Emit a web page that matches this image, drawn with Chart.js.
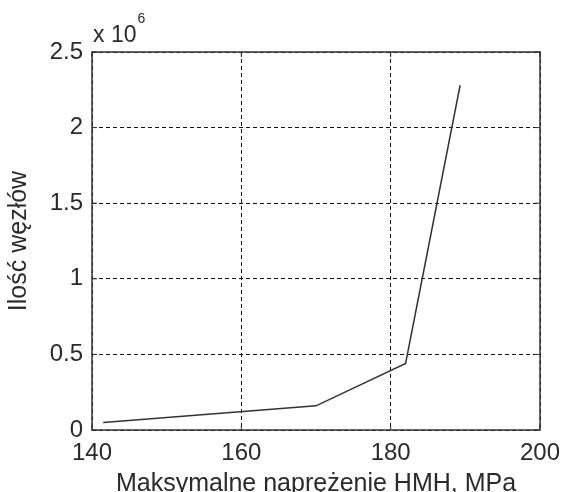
<!DOCTYPE html>
<html>
<head>
<meta charset="utf-8">
<script src="https://cdn.jsdelivr.net/npm/chart.js@4"></script>
<style>
    html, body { margin: 0; padding: 0; background: #fff; }
    #wrap { width: 562px; height: 492px; }
</style>
</head>
<body>
<div id="wrap"><canvas id="chart" width="562" height="492"></canvas></div>
<script>
// stress (MPa) vs node count (x 10^6)
const stressValues = [141.5, 170, 182, 189.3];
const nodeCounts = [0.05, 0.16, 0.44, 2.28];
const xTicks = [140, 160, 180, 200];
const yTicks = [0, 0.5, 1, 1.5, 2, 2.5];

const xTitle = 'Maksymalne naprężenie HMH, MPa';
const yTitle = 'Ilość węzłów';

const fontFamily = '"Liberation Sans", Arial, sans-serif';
const textColor = '#2a2a2a';

// frame, inward ticks and the exponent label, MATLAB style
const framePlugin = {
    id: 'frame',
    afterDraw(chart) {
        const { ctx, chartArea: a, scales } = chart;
        ctx.save();
        ctx.strokeStyle = '#333';
        ctx.lineWidth = 1.5;
        ctx.strokeRect(a.left, a.top, a.right - a.left, a.bottom - a.top);

        ctx.lineWidth = 1;
        xTicks.forEach(v => {
            const px = scales.x.getPixelForValue(v);
            ctx.beginPath();
            ctx.moveTo(px, a.bottom); ctx.lineTo(px, a.bottom - 5);
            ctx.moveTo(px, a.top); ctx.lineTo(px, a.top + 5);
            ctx.stroke();
        });
        yTicks.forEach(v => {
            const py = scales.y.getPixelForValue(v);
            ctx.beginPath();
            ctx.moveTo(a.left, py); ctx.lineTo(a.left + 5, py);
            ctx.moveTo(a.right, py); ctx.lineTo(a.right - 5, py);
            ctx.stroke();
        });

        ctx.fillStyle = textColor;
        ctx.textBaseline = 'alphabetic';
        ctx.textAlign = 'left';
        ctx.font = `23px ${fontFamily}`;
        ctx.fillText('x 10', a.left + 1, a.top - 10);
        const w = ctx.measureText('x 10').width;
        ctx.font = `14px ${fontFamily}`;
        ctx.fillText('6', a.left + 2 + w, a.top - 29);
        ctx.restore();
    }
};

const ctx = document.getElementById('chart').getContext('2d');

new Chart(ctx, {
    type: 'line',
    data: {
        datasets: [{
            data: stressValues.map((x, i) => ({ x: x, y: nodeCounts[i] })),
            borderColor: '#333',
            borderWidth: 1.5,
            pointRadius: 0,
            tension: 0,
            fill: false
        }]
    },
    options: {
        responsive: false,
        animation: false,
        layout: { padding: { top: 52, right: 22, left: 0, bottom: 0 } },
        plugins: {
            legend: { display: false },
            tooltip: { enabled: false }
        },
        scales: {
            x: {
                type: 'linear',
                min: 140,
                max: 200,
                afterBuildTicks: (scale) => { scale.ticks = xTicks.map(v => ({ value: v })); },
                afterFit: (scale) => {
                    scale.height = 62;
                    scale.paddingLeft = 0;
                    scale.paddingRight = 0;
                },
                grid: { color: '#111', lineWidth: 1, drawTicks: false },
                border: { display: false, dash: [4, 3] },
                ticks: {
                    color: textColor,
                    font: { family: fontFamily, size: 24 },
                    padding: 9,
                    maxRotation: 0
                },
                title: {
                    display: true,
                    text: xTitle,
                    color: textColor,
                    font: { family: fontFamily, size: 25 },
                    padding: { top: 0, bottom: -7 }
                }
            },
            y: {
                type: 'linear',
                min: 0,
                max: 2.5,
                afterBuildTicks: (scale) => { scale.ticks = yTicks.map(v => ({ value: v })); },
                afterFit: (scale) => {
                    scale.width = 92;
                    scale.paddingTop = 0;
                    scale.paddingBottom = 0;
                },
                grid: { color: '#111', lineWidth: 1, drawTicks: false },
                border: { display: false, dash: [4, 3] },
                ticks: {
                    color: textColor,
                    font: { family: fontFamily, size: 24 },
                    padding: 9,
                    callback: (v) => String(v)
                },
                title: {
                    display: true,
                    text: yTitle,
                    color: textColor,
                    font: { family: fontFamily, size: 25 },
                    padding: { top: 4, bottom: 6 }
                }
            }
        }
    },
    plugins: [framePlugin]
});
</script>
</body>
</html>
